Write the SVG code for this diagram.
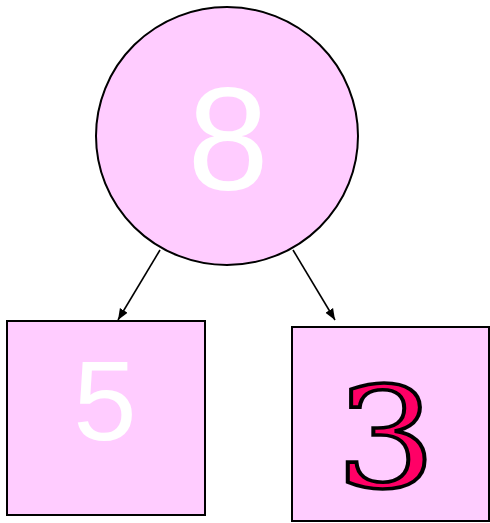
<svg xmlns="http://www.w3.org/2000/svg" width="490" height="523" viewBox="0 0 490 523">
<style>
.node{fill:#ffccff;stroke:#000;stroke-width:2}
.edge{stroke:#000;stroke-width:1.6;fill:none;marker-end:url(#ah)}
.w{fill:#fff;font-family:"Liberation Sans",Arial,sans-serif;text-anchor:middle}
</style>
<defs>
<marker id="ah" viewBox="0 0 10 10" refX="10" refY="5" markerWidth="7" markerHeight="7" markerUnits="strokeWidth" orient="auto"><path d="M0,1 L10,5 L0,9 z" fill="#000"/></marker>
</defs>
<g id="connectors">
<line class="edge" x1="160" y1="250" x2="118" y2="320"/>
<line class="edge" x1="293" y1="250" x2="335" y2="320"/>
</g>
<g id="n8">
<ellipse class="node" cx="227" cy="136" rx="131" ry="129"/>
<text class="w" x="228" y="190" font-size="146">8</text>
</g>
<g id="n5">
<rect class="node" x="7" y="321" width="198" height="194"/>
<text class="w" x="105" y="440" font-size="114">5</text>
</g>
<g id="n3">
<rect class="node" x="292" y="327" width="197" height="194"/>
<text x="386" y="487" font-size="140" text-anchor="middle" font-family="'DejaVu Serif',serif" fill="#ff0066" stroke="#000" stroke-width="3.6" transform="translate(386 0) scale(1.13 1) translate(-386 0)">3</text>
</g>
</svg>
